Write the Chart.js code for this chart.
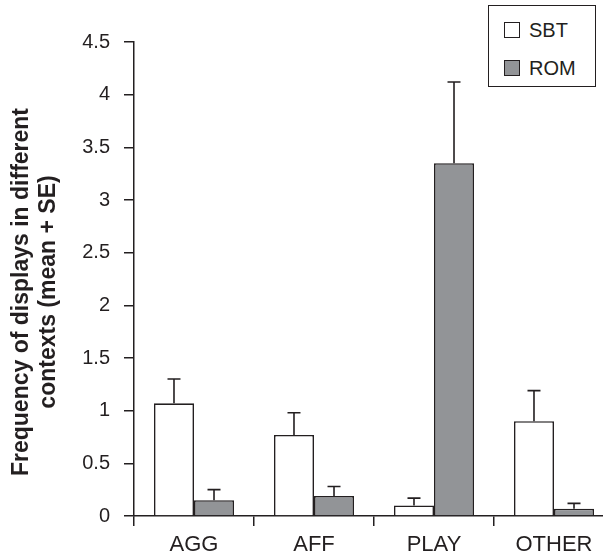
<!DOCTYPE html>
<html>
<head>
<meta charset="utf-8">
<script src="https://cdn.jsdelivr.net/npm/chart.js@4/dist/chart.umd.min.js"></script>
<style>
  html, body { margin: 0; padding: 0; background: #fff; overflow: hidden; }
  .wrap { position: relative; width: 603px; height: 557px; overflow: hidden; }
  .wrap canvas { position: absolute; left: 0; top: 0; }
  .legend {
    position: absolute; left: 488px; top: 5px; width: 106px; height: 80px;
    border: 1.5px solid #231f20; background: #fff;
    font-family: "Liberation Sans", Arial, sans-serif; font-size: 20px; color: #231f20;
  }
  .legend .item { position: absolute; left: 15px; height: 20px; line-height: 20px; }
  .legend .sw { display: inline-block; width: 14px; height: 14px; border: 1.5px solid #231f20; vertical-align: -1px; margin-right: 9px; }
</style>
</head>
<body>
<div class="wrap">
  <canvas id="chart" width="620" height="557"></canvas>
  <div class="legend" id="legend"></div>
</div>
<script>
const categories = ['AGG', 'AFF', 'PLAY', 'OTHER'];
const seriesNames = ['SBT', 'ROM'];
const sbtMean = [1.07, 0.77, 0.10, 0.90];
const sbtSE = [0.23, 0.21, 0.07, 0.29];
const romMean = [0.15, 0.19, 3.35, 0.07];
const romSE = [0.10, 0.09, 0.77, 0.05];
const yTicks = [0, 0.5, 1, 1.5, 2, 2.5, 3, 3.5, 4, 4.5];
const yTitle = ['Frequency of displays in different', 'contexts (mean + SE)'];

const ink = '#231f20';
const fills = ['#ffffff', '#929497'];
const errors = [sbtSE, romSE];

// error bars: only the upper half, with a small cap
const errorBars = {
    id: 'errorBars',
    afterDatasetsDraw(chart) {
        const c = chart.ctx;
        const y = chart.scales.y;
        c.save();
        c.strokeStyle = ink;
        c.lineWidth = 1.6;
        chart.data.datasets.forEach((ds, i) => {
            chart.getDatasetMeta(i).data.forEach((bar, j) => {
                const top = y.getPixelForValue(ds.data[j] + errors[i][j]);
                c.beginPath();
                c.moveTo(bar.x, bar.y);
                c.lineTo(bar.x, top);
                c.moveTo(bar.x - 6.5, top);
                c.lineTo(bar.x + 6.5, top);
                c.stroke();
            });
        });
        c.restore();
    }
};

// rotated two-line y title (sits a bit below the axis middle in the original)
const sideTitle = {
    id: 'sideTitle',
    afterDraw(chart) {
        const c = chart.ctx;
        c.save();
        c.fillStyle = ink;
        c.font = 'bold 23px "Liberation Sans", Arial, sans-serif';
        c.textAlign = 'center';
        c.textBaseline = 'middle';
        c.translate(0, 292);
        c.rotate(-Math.PI / 2);
        c.fillText(yTitle[0], 0, 22);
        c.fillText(yTitle[1], 0, 49);
        c.restore();
    }
};

new Chart(document.getElementById('chart'), {
    type: 'bar',
    data: {
        labels: categories,
        datasets: [{
            label: seriesNames[0],
            data: sbtMean,
            backgroundColor: fills[0],
            borderColor: ink,
            borderWidth: 1.6
        }, {
            label: seriesNames[1],
            data: romMean,
            backgroundColor: fills[1],
            borderColor: ink,
            borderWidth: 1.6
        }]
    },
    options: {
        responsive: false,
        animation: false,
        categoryPercentage: 0.667,
        barPercentage: 1,
        layout: { padding: { top: 42, right: 6, left: 0, bottom: 0 } },
        plugins: {
            legend: { display: false },
            tooltip: { enabled: false }
        },
        scales: {
            x: {
                grid: { display: true, drawOnChartArea: false, offset: true, tickLength: 10, color: ink, lineWidth: 1.5 },
                border: { color: ink, width: 1.5 },
                ticks: { color: ink, padding: 6, font: { family: 'Liberation Sans', size: 22 } },
                afterFit: s => { s.height = 41; }
            },
            y: {
                min: 0,
                max: 4.5,
                afterBuildTicks: s => { s.ticks = yTicks.map(v => ({ value: v })); },
                grid: { display: true, drawOnChartArea: false, tickLength: 10, color: ink, lineWidth: 1.5 },
                border: { color: ink, width: 1.5 },
                ticks: {
                    color: ink,
                    padding: 14,
                    font: { family: 'Liberation Sans', size: 20 },
                    callback: v => String(v)
                },
                afterFit: s => { s.width = 134; }
            }
        }
    },
    plugins: [errorBars, sideTitle]
});

// legend built from the series names and fills
const legend = document.getElementById('legend');
seriesNames.forEach((name, i) => {
    const item = document.createElement('div');
    item.className = 'item';
    item.style.top = (i === 0 ? 14 : 52) + 'px';
    item.innerHTML = '<span class="sw" style="background:' + fills[i] + '"></span>' + name;
    legend.appendChild(item);
});
</script>
</body>
</html>
